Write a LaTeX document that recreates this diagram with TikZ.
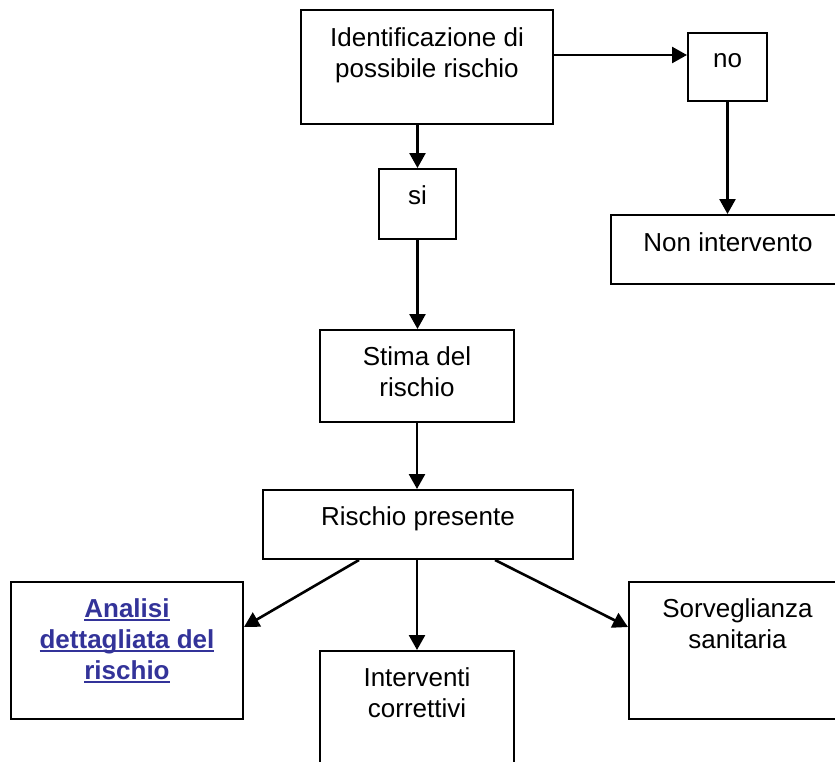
\documentclass[tikz,border=0pt]{standalone}
\usepackage{fontspec}
\setmainfont{Liberation Sans}
\usetikzlibrary{arrows.meta}
\definecolor{linkblue}{HTML}{333399}
\newcommand\myul[1]{\setbox0\hbox{#1}\rlap{\rule[-3.5pt]{\wd0}{2pt}}\box0}
\begin{document}
\begin{tikzpicture}[x=1pt,y=-1pt,
  box/.style={draw, line width=2pt, rectangle, inner sep=0pt, anchor=north west},
  txt/.style={anchor=north, inner sep=0pt, align=center, font=\fontsize{26}{31}\selectfont},
  arr/.style={line width=2.6pt, -{Triangle[length=15pt,width=16pt]}}]
\useasboundingbox (0,0) rectangle (835,761);
\clip (0,0) rectangle (835,761);
% boxes
\node[box, minimum width=252pt, minimum height=114pt] (b1) at (300,9) {};
\node[box, minimum width=79pt, minimum height=68pt] (no) at (687,32) {};
\node[box, minimum width=77pt, minimum height=70pt] (si) at (378,168) {};
\node[box, minimum width=234pt, minimum height=69pt] (ni) at (610,214) {};
\node[box, minimum width=194pt, minimum height=92pt] (st) at (319,329) {};
\node[box, minimum width=310pt, minimum height=69pt] (rp) at (262,489) {};
\node[box, minimum width=232pt, minimum height=137pt] (ana) at (10,581) {};
\node[box, minimum width=194pt, minimum height=160pt] (int) at (319,650) {};
\node[box, minimum width=217pt, minimum height=137pt] (sorv) at (628,581) {};
% texts
\node[txt] (t1) at ([yshift=-18pt]b1.north) {\rule{0pt}{19pt}Identificazione di\\possibile rischio};
\node[txt] (tno) at ([yshift=-16pt]no.north) {\rule{0pt}{19pt}no};
\node[txt] (tsi) at ([yshift=-17pt]si.north) {\rule{0pt}{19pt}si};
\node[txt] (tni) at ([yshift=-18pt]ni.north) {\rule{0pt}{19pt}Non intervento};
\node[txt] (tst) at ([yshift=-17pt]st.north) {\rule{0pt}{19pt}Stima del\\rischio};
\node[txt] (trp) at ([yshift=-17pt]rp.north) {\rule{0pt}{19pt}Rischio presente};
\node[txt, text=linkblue, font=\fontsize{26}{31}\selectfont\bfseries] (tana) at ([yshift=-17pt]ana.north)
  {\rule{0pt}{19pt}\myul{Analisi}\\\myul{dettagliata del}\\\myul{rischio}};
\node[txt] (tint) at ([yshift=-17pt]int.north) {\rule{0pt}{19pt}Interventi\\correttivi};
\node[txt] (tsorv) at ([yshift=-17pt]sorv.north) {\rule{0pt}{19pt}Sorveglianza\\sanitaria};
% connectors
\draw[arr] ([yshift=12pt]b1.east) -- ([yshift=12pt]no.west);
\draw[arr] (si.north |- b1.south) -- (si.north);
\draw[arr] (no.south) -- (no.south |- ni.north);
\draw[arr] (si.south) -- (si.south |- st.north);
\draw[arr] (st.south) -- (st.south |- rp.north);
\draw[arr] (int.north |- rp.south) -- (int.north);
\draw[arr] ([xshift=-59pt]rp.south) -- ([yshift=23.5pt]ana.east);
\draw[arr] ([xshift=77pt]rp.south) -- ([yshift=23.5pt]sorv.west);
\end{tikzpicture}
\end{document}
